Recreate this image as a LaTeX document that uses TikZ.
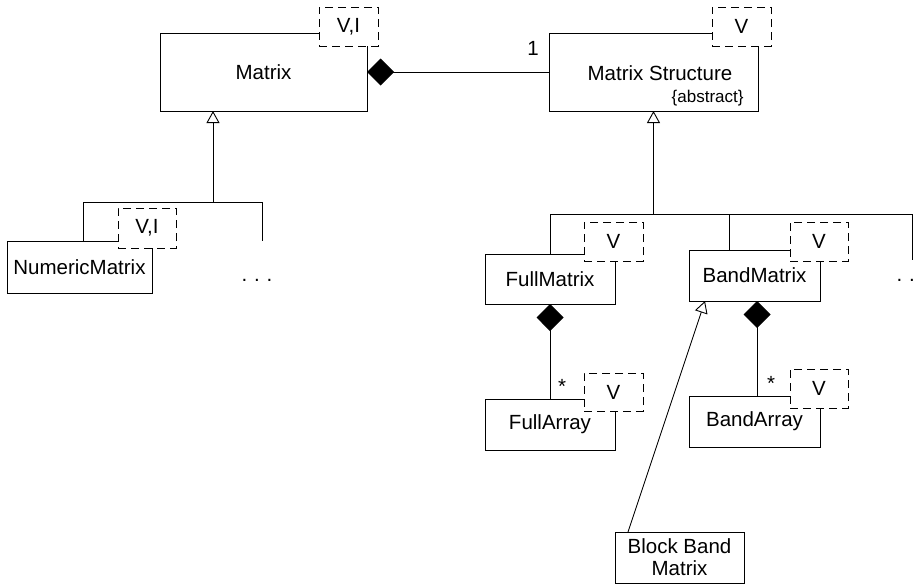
\documentclass[tikz,border=0pt]{standalone}
\usepackage{fontspec}
\setmainfont{Liberation Sans}
\usetikzlibrary{arrows.meta}
\begin{document}
\begin{tikzpicture}[x=1pt,y=-1pt,line width=0.9pt,
  every node/.style={font=\fontsize{20.5}{22}\selectfont},
  cls/.style={draw,rectangle,inner sep=0pt,outer sep=0pt,anchor=north west,align=center},
  tmpl/.style={draw,dash pattern=on 8pt off 5pt,fill=white,rectangle,inner sep=0pt,outer sep=0pt,anchor=north west,minimum width=59pt,minimum height=39pt},
  gen/.style={-{Triangle[open,length=12pt,width=13pt]}},
  comp/.style={{Diamond[length=27pt,width=27pt]}-},
  lbl/.style={inner sep=0pt}]
\useasboundingbox (0,0) rectangle (919,584);
% classes
\node[cls,minimum width=207pt,minimum height=78pt] (mat) at (160,33) {Matrix};
\node[cls,minimum width=209pt,minimum height=78pt] (ms) at (549,33) {};
\node[lbl,anchor=base] (mstxt) at (660,80) {Matrix Structure};
\node[lbl,anchor=base east,font=\fontsize{17}{19}\selectfont] (msabs) at (744,102) {\{abstract\}};
\node[cls,minimum width=145pt,minimum height=52pt] (nm) at (7,241) {NumericMatrix};
\node[cls,minimum width=130pt,minimum height=50pt] (fm) at (485,254) {FullMatrix};
\node[cls,minimum width=131pt,minimum height=51pt] (bm) at (689,250) {BandMatrix};
\node[cls,minimum width=130pt,minimum height=51pt] (fa) at (485,399) {FullArray};
\node[cls,minimum width=131pt,minimum height=51pt] (ba) at (689,396) {BandArray};
\node[cls,minimum width=129pt,minimum height=51pt] (bbm) at (615,532) {Block Band\\Matrix};
% template boxes
\node[tmpl] (matT) at (319,7) {V,I};
\node[tmpl] (msT) at (712,7) {V};
\node[tmpl,minimum width=58pt,minimum height=40pt] (nmT) at (118,208) {V,I};
\node[tmpl] (fmT) at (584,222) {V};
\node[tmpl,minimum width=58pt] (bmT) at (790,222) {V};
\node[tmpl,minimum height=38pt] (faT) at (584,373) {V};
\node[tmpl,minimum width=58pt] (baT) at (790,369) {V};
% ellipses
\node[lbl,anchor=base] (dotsL) at (257,281) {.\,\,.\,\,.};
\node[lbl,anchor=base] (dotsR) at (912,281) {.\,\,.\,\,.};
% composition Matrix -- Matrix Structure
\draw[comp] (mat.east) -- (ms.west);
\node[lbl] (one) at (533,48) {1};
% generalisation tree under Matrix
\coordinate (jL) at (213,202);
\coordinate (bLw) at (83,202);
\coordinate (bLe) at (262,202);
\coordinate (eL) at (262,241);
\draw[gen] (jL) -- (jL |- mat.south);
\draw (bLw) -- (bLe);
\draw (bLw) -- (bLw |- nm.north);
\draw (bLe) -- (eL);
% generalisation tree under Matrix Structure
\coordinate (jR) at (653.5,214);
\coordinate (bRw) at (550,214);
\coordinate (bRm) at (729,214);
\coordinate (bRe) at (912,214);
\coordinate (eR) at (912,260);
\draw[gen] (jR) -- (ms.south);
\draw (bRw) -- (bRe);
\draw (bRw) -- (fm.north);
\draw (bRm) -- (bRm |- bm.north);
\draw (bRe) -- (eR);
% compositions to arrays
\draw[comp] (fm.south) -- (fa.north);
\node[lbl] (starF) at (562,386) {*};
\draw[comp] ([xshift=2.5pt]bm.south) -- ([xshift=2.5pt]ba.north);
\node[lbl] (starB) at (771,383) {*};
% Block Band Matrix generalisation
\draw[gen] ([xshift=13pt]bbm.north west) -- ([xshift=16pt]bm.south west);
\end{tikzpicture}
\end{document}
